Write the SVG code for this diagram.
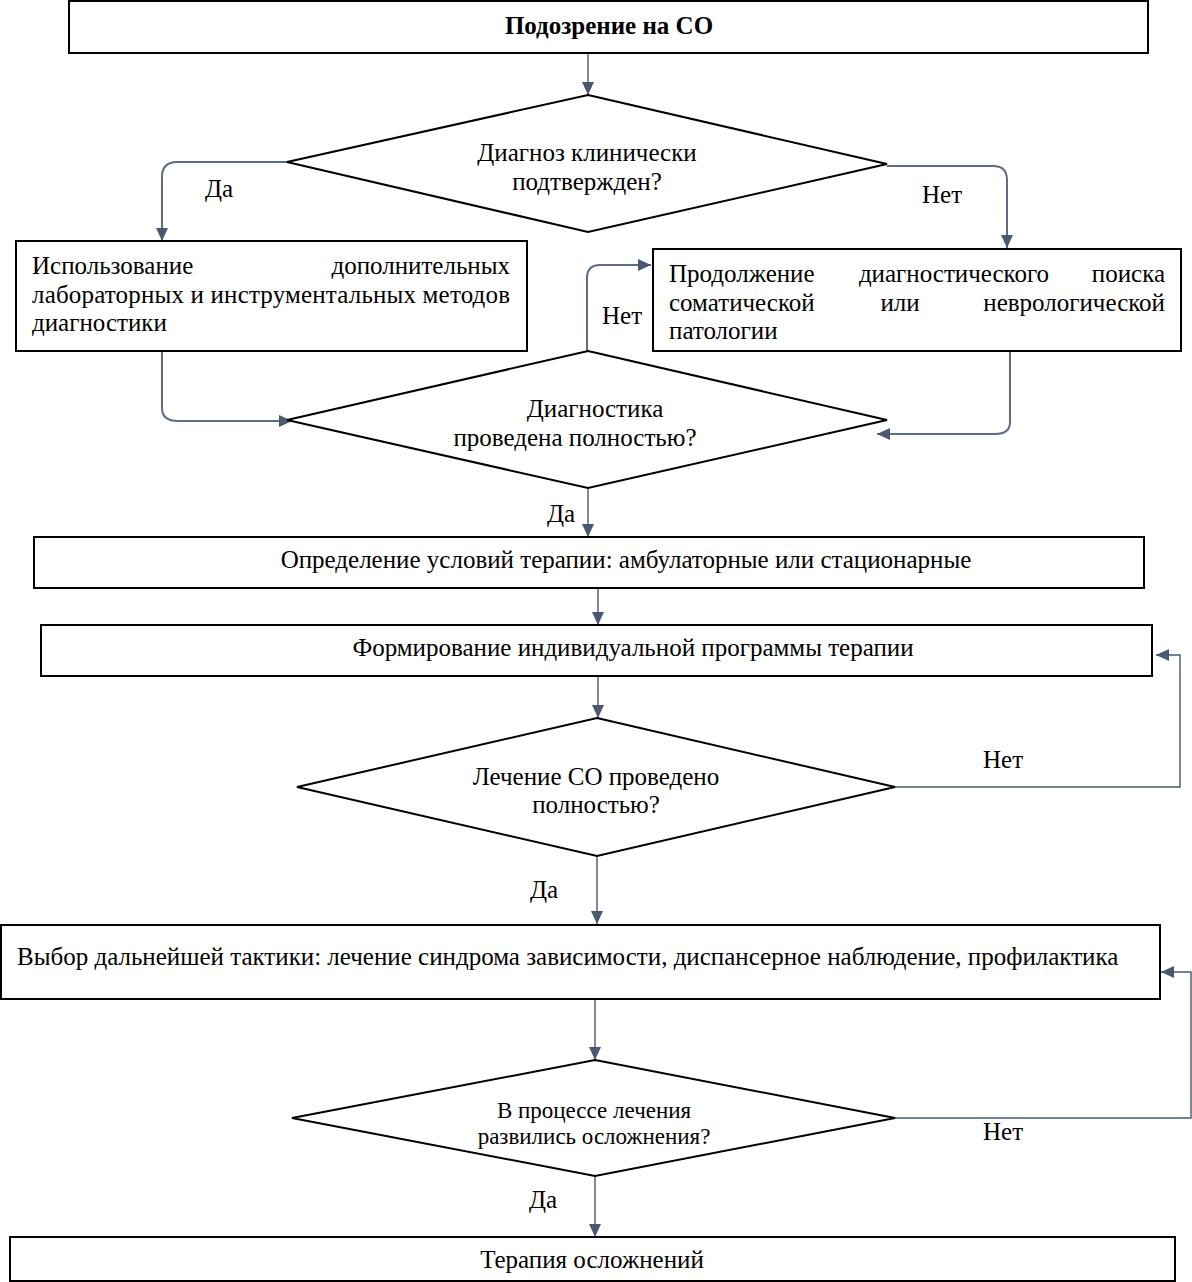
<svg xmlns="http://www.w3.org/2000/svg" width="1192" height="1282" viewBox="0 0 1192 1282">
<style>
.box{fill:#fff;stroke:#000;stroke-width:2}
.dia{fill:#fff;stroke:#000;stroke-width:2}
.t{font-family:"Liberation Serif","Times New Roman",serif;font-size:25px;fill:#000}
.s{font-size:23px}
.c{text-anchor:middle}
.e{text-anchor:end}
.b{font-weight:bold}
.con{fill:none;stroke:#4a5870;stroke-width:1.4}
.con2{fill:none;stroke:#5b6c84;stroke-width:2}
</style>
<defs>
<marker id="ah" markerUnits="userSpaceOnUse" markerWidth="14" markerHeight="12" refX="13" refY="6" orient="auto">
<path d="M0,0 L13,6 L0,12 Z" fill="#4a5870"/>
</marker>
</defs>
<rect width="1192" height="1282" fill="#fff"/>
<g id="connectors">
<path class="con" d="M588,53 V95" marker-end="url(#ah)"/>
<path class="con2" d="M287,162 H177 Q162,162 162,177 V241" marker-end="url(#ah)"/>
<path class="con2" d="M887,166 H993 Q1007,166 1007,180 V248" marker-end="url(#ah)"/>
<path class="con2" d="M162,351 V408 Q162,421 178,421 H292" marker-end="url(#ah)"/>
<path class="con2" d="M1010,351 V422 Q1010,434 995,434 H877" marker-end="url(#ah)"/>
<path class="con2" d="M587,351 V278 Q587,265 600,265 H651" marker-end="url(#ah)"/>
<path class="con" d="M588,488 V537" marker-end="url(#ah)"/>
<path class="con" d="M598,588 V625" marker-end="url(#ah)"/>
<path class="con" d="M598,676 V718" marker-end="url(#ah)"/>
<path class="con" d="M895,787 H1180 V655 H1156" marker-end="url(#ah)"/>
<path class="con" d="M597,856 V924" marker-end="url(#ah)"/>
<path class="con" d="M595,999 V1060" marker-end="url(#ah)"/>
<path class="con" d="M895,1118 H1191 V972 H1161" marker-end="url(#ah)"/>
<path class="con" d="M595,1176 V1237" marker-end="url(#ah)"/>
</g>
<g id="labels">
<text class="t" x="205" y="197">Да</text>
<text class="t" x="922" y="203">Нет</text>
<text class="t" x="602" y="324">Нет</text>
<text class="t" x="547" y="522">Да</text>
<text class="t" x="983" y="768">Нет</text>
<text class="t" x="530" y="898">Да</text>
<text class="t" x="983" y="1140">Нет</text>
<text class="t" x="529" y="1208">Да</text>
</g>
<g id="n1">
<rect class="box" x="69" y="1" width="1079" height="52"/>
<text class="t c b" x="609" y="34">Подозрение на СО</text>
</g>
<g id="n2">
<polygon class="dia" points="588,95 887,164 588,232 287,162"/>
<text class="t c" x="587" y="161">Диагноз клинически</text>
<text class="t c" x="587" y="190">подтвержден?</text>
</g>
<g id="n3">
<rect class="box" x="16" y="241" width="511" height="110"/>
<text class="t" x="32" y="274">Использование</text>
<text class="t e" x="510" y="274">дополнительных</text>
<text class="t" x="32" y="303" textLength="478" lengthAdjust="spacing">лабораторных и инструментальных методов</text>
<text class="t" x="32" y="331">диагностики</text>
</g>
<g id="n4">
<rect class="box" x="653" y="249" width="528" height="102"/>
<text class="t" x="669" y="282">Продолжение</text>
<text class="t c" x="954" y="282">диагностического</text>
<text class="t e" x="1165" y="282">поиска</text>
<text class="t" x="669" y="311">соматической</text>
<text class="t c" x="900" y="311">или</text>
<text class="t e" x="1165" y="311">неврологической</text>
<text class="t" x="669" y="339">патологии</text>
</g>
<g id="n5">
<polygon class="dia" points="588,351 887,420 588,488 287,420"/>
<text class="t c" x="595" y="417">Диагностика</text>
<text class="t c" x="575" y="446">проведена полностью?</text>
</g>
<g id="n6">
<rect class="box" x="34" y="537" width="1110" height="51"/>
<text class="t c" x="626" y="568">Определение условий терапии: амбулаторные или стационарные</text>
</g>
<g id="n7">
<rect class="box" x="41" y="625" width="1111" height="51"/>
<text class="t c" x="633" y="656">Формирование индивидуальной программы терапии</text>
</g>
<g id="n8">
<polygon class="dia" points="597,718 895,787 597,856 297,787"/>
<text class="t c" x="596" y="785">Лечение СО проведено</text>
<text class="t c" x="596" y="813">полностью?</text>
</g>
<g id="n9">
<rect class="box" x="1" y="925" width="1159" height="74"/>
<text class="t" x="17" y="965">Выбор дальнейшей тактики: лечение синдрома зависимости, диспансерное наблюдение, профилактика</text>
</g>
<g id="n10">
<polygon class="dia" points="595,1060 895,1118 595,1176 292,1118"/>
<text class="t s c" x="594" y="1118">В процессе лечения</text>
<text class="t s c" x="594" y="1144">развились осложнения?</text>
</g>
<g id="n11">
<rect class="box" x="10" y="1237" width="1165" height="44"/>
<text class="t c" x="592" y="1268">Терапия осложнений</text>
</g>
</svg>
